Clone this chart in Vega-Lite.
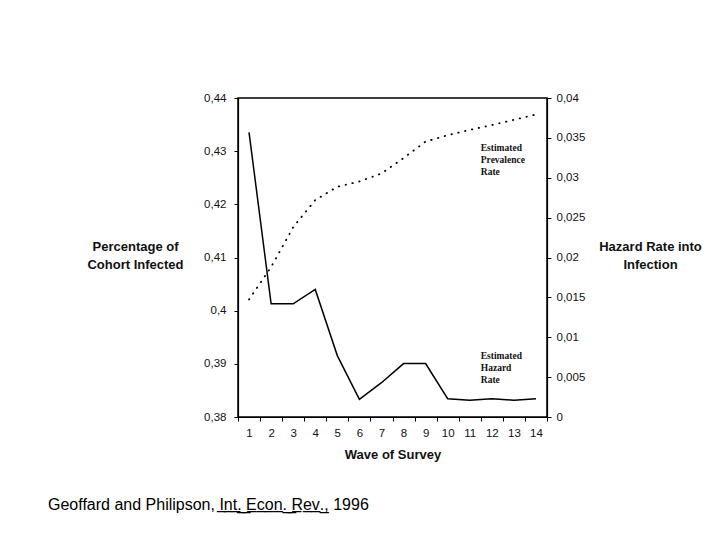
{
  "$schema": "https://vega.github.io/schema/vega-lite/v6.json",
  "width": 309,
  "height": 319,
  "autosize": {"type": "none"},
  "padding": {"left": 238, "top": 98, "right": 173, "bottom": 123},
  "background": "white",
  "config": {
    "view": {"stroke": "#000", "strokeWidth": 1.5},
    "font": "Liberation Sans",
    "axis": {"domainColor": "#000", "domainWidth": 1.2, "tickColor": "#000", "labelColor": "#111", "titleColor": "#111", "labelFont": "Liberation Sans", "titleFont": "Liberation Sans", "grid": false}
  },
  "title": {
    "text": "Geoffard and Philipson, I̲n̲t̲.̲ ̲E̲c̲o̲n̲.̲ ̲R̲e̲v̲.̲, 1996",
    "orient": "bottom",
    "anchor": "start",
    "frame": "group",
    "dx": -190,
    "offset": 36,
    "fontSize": 16,
    "fontWeight": "normal",
    "font": "Liberation Sans",
    "color": "#000"
  },
  "datasets": {
    "survey": [
      {"wave": 1, "prevalence": 0.4021, "hazard": 0.0357},
      {"wave": 2, "prevalence": 0.4082, "hazard": 0.0142},
      {"wave": 3, "prevalence": 0.4157, "hazard": 0.0142},
      {"wave": 4, "prevalence": 0.4208, "hazard": 0.0160},
      {"wave": 5, "prevalence": 0.4233, "hazard": 0.0077},
      {"wave": 6, "prevalence": 0.4243, "hazard": 0.0022},
      {"wave": 7, "prevalence": 0.4258, "hazard": 0.0043},
      {"wave": 8, "prevalence": 0.4287, "hazard": 0.0067},
      {"wave": 9, "prevalence": 0.4318, "hazard": 0.0067},
      {"wave": 10, "prevalence": 0.4330, "hazard": 0.0023},
      {"wave": 11, "prevalence": 0.4340, "hazard": 0.0021},
      {"wave": 12, "prevalence": 0.4349, "hazard": 0.0023},
      {"wave": 13, "prevalence": 0.4359, "hazard": 0.0021},
      {"wave": 14, "prevalence": 0.4369, "hazard": 0.0023}
    ],
    "notes": [
      {"wave": 12, "value": 0.4315, "note": "Estimated\nPrevalence\nRate"},
      {"wave": 12, "value": 0.3924, "note": "Estimated\nHazard\nRate"}
    ]
  },
  "layer": [
    {
      "layer": [
        {
          "data": {"name": "survey"},
          "mark": {"type": "line", "color": "#000", "strokeWidth": 1.8, "strokeDash": [0.5, 6.5], "strokeCap": "round"},
          "encoding": {
            "x": {
              "field": "wave", "type": "ordinal", "bandPosition": 0.5,
              "scale": {"type": "band", "domain": [1,2,3,4,5,6,7,8,9,10,11,12,13,14], "paddingInner": 0, "paddingOuter": 0},
              "axis": {"title": "Wave of Survey", "titleFontSize": 13, "titleFontWeight": "bold", "titleBaseline": "top", "titleY": 31, "labelAngle": 0, "tickBand": "extent", "tickSize": 4, "labelPadding": 6, "labelFontSize": 11.5}
            },
            "y": {
              "field": "prevalence", "type": "quantitative",
              "scale": {"domain": [0.38, 0.44], "zero": false, "nice": false},
              "axis": {"title": ["Percentage of", "Cohort Infected"], "titleAngle": 0, "titleAlign": "center", "titleBaseline": "top", "titleX": -103, "titleY": 142, "titleLineHeight": 18, "titleFontSize": 13, "titleFontWeight": "bold", "values": [0.38, 0.39, 0.4, 0.41, 0.42, 0.43, 0.44], "format": ".2~f", "labelExpr": "replace(datum.label, '.', ',')", "labelFontSize": 11.5, "tickSize": 4, "labelPadding": 8}
            }
          }
        },
        {
          "data": {"name": "notes"},
          "mark": {"type": "text", "align": "left", "baseline": "top", "font": "Liberation Serif", "fontSize": 9.5, "fontWeight": "bold", "lineBreak": "\n", "lineHeight": 12, "color": "#111"},
          "encoding": {
            "x": {"field": "wave", "type": "ordinal", "bandPosition": 0},
            "y": {"field": "value", "type": "quantitative", "axis": {"title": ["Percentage of", "Cohort Infected"]}},
            "text": {"field": "note"}
          }
        }
      ]
    },
    {
      "data": {"name": "survey"},
      "mark": {"type": "line", "color": "#000", "strokeWidth": 1.5},
      "encoding": {
        "x": {"field": "wave", "type": "ordinal", "bandPosition": 0.5},
        "y": {
          "field": "hazard", "type": "quantitative",
          "scale": {"domain": [0, 0.04], "nice": false},
          "axis": {"orient": "right", "title": ["Hazard Rate into", "Infection"], "titleAngle": 0, "titleAlign": "center", "titleBaseline": "top", "titleX": 103, "titleY": 142, "titleLineHeight": 18, "titleFontSize": 13, "titleFontWeight": "bold", "values": [0, 0.005, 0.01, 0.015, 0.02, 0.025, 0.03, 0.035, 0.04], "format": ".3~f", "labelExpr": "replace(datum.label, '.', ',')", "labelFontSize": 11.5, "tickSize": 4, "labelPadding": 5}
        }
      }
    }
  ],
  "resolve": {"scale": {"y": "independent"}}
}
